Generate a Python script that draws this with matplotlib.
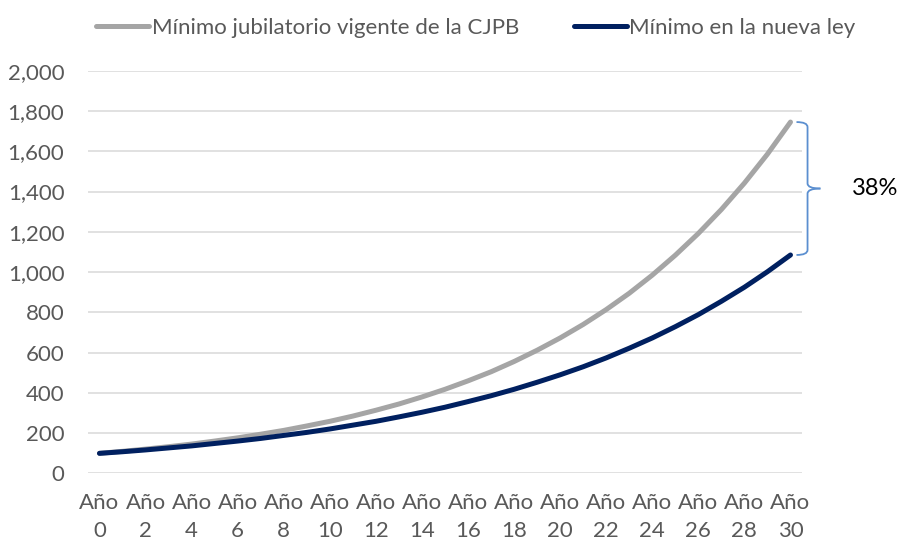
import matplotlib
matplotlib.use("Agg")
import matplotlib.pyplot as plt
from matplotlib.path import Path
from matplotlib.patches import PathPatch

plt.rcParams['font.family'] = ['Lato', 'DejaVu Sans']

years = list(range(0, 31))
tick_years = list(range(0, 31, 2))
tick_labels = [f"Año\n{y}" for y in tick_years]

cjpb = [100, 110, 121, 133, 146, 161, 177, 195, 214, 236, 259, 285, 314, 345,
        380, 418, 460, 505, 556, 612, 673, 740, 814, 895, 985, 1084, 1192,
        1311, 1442, 1586, 1745]
nueva = [100, 108, 117, 127, 137, 149, 161, 174, 189, 204, 221, 240, 259, 281,
         304, 329, 357, 386, 418, 453, 490, 530, 574, 622, 673, 729, 789,
         855, 925, 1002, 1085]

series_names = ["Mínimo jubilatorio vigente de la CJPB", "Mínimo en la nueva ley"]
diff_label = "38%"

GRAY = "#A5A5A5"
NAVY = "#002060"
TXT = "#595959"
BRACE = "#5B8FD0"
FS = 16

fig = plt.figure(figsize=(9.05, 5.41), dpi=100)
ax = fig.add_axes([0.0972, 0.1248, 0.7890, 0.7445])

ax.plot(years, cjpb, color=GRAY, lw=3.6, solid_capstyle='round', label=series_names[0], zorder=3)
ax.plot(years, nueva, color=NAVY, lw=3.6, solid_capstyle='round', label=series_names[1], zorder=4)

ax.set_xlim(-0.5, 30.5)
ax.set_ylim(0, 2000)
ax.set_yticks(range(0, 2001, 200))
ax.set_yticklabels([f"{v:,}" for v in range(0, 2001, 200)])
ax.set_xticks(tick_years)
ax.set_xticklabels(tick_labels, linespacing=1.5)
ax.tick_params(axis='both', length=0, labelsize=FS, colors=TXT)
ax.tick_params(axis='y', pad=17)
ax.tick_params(axis='x', pad=14)
ax.grid(axis='y', color="#D9D9D9", lw=1.1)
ax.set_axisbelow(True)
for s in ax.spines.values():
    s.set_visible(False)

# brace
top = cjpb[-1]
bot = nueva[-1]
mid = (top + bot) / 2
x0, x1, x2 = 30.26, 30.74, 31.3
r = 25
codes = [Path.MOVETO, Path.CURVE3, Path.CURVE3, Path.LINETO, Path.CURVE3, Path.CURVE3]
verts_a = [(x0, top), (x1, top), (x1, top - r), (x1, mid + r), (x1, mid), (x2, mid)]
verts_b = [(x2, mid), (x1, mid), (x1, mid - r), (x1, bot + r), (x1, bot), (x0, bot)]
for v in (verts_a, verts_b):
    ax.add_patch(PathPatch(Path(v, codes), fill=False, edgecolor=BRACE, lw=1.3, clip_on=False))

ax.text(32.65, mid, diff_label, fontsize=17, color="black", va='center', ha='left', clip_on=False)

leg = fig.legend(loc='upper left', bbox_to_anchor=(0.0915, 0.992), ncol=2, frameon=False,
                 fontsize=FS, handlelength=2.4, handletextpad=0.1, columnspacing=2.45,
                 borderaxespad=0.2)
for t in leg.get_texts():
    t.set_color(TXT)

fig.savefig("out.png", dpi=100)
